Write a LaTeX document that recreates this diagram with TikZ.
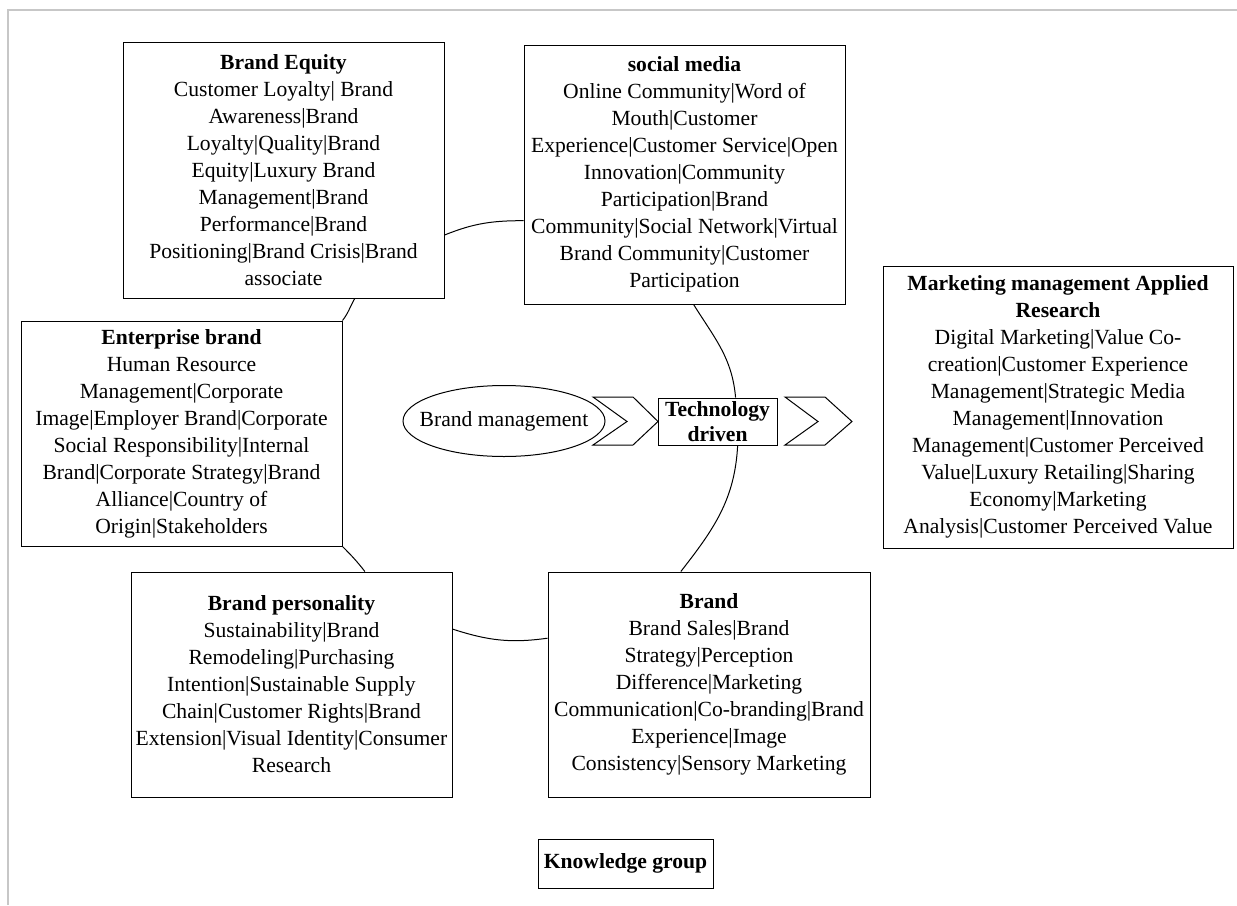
\documentclass[tikz,border=0pt]{standalone}
\usepackage{fontspec}
\setmainfont{Liberation Serif}
\usetikzlibrary{shapes.geometric}

\begin{document}
\begin{tikzpicture}[x=0.5pt,y=-0.5pt,line width=0.5pt,every node/.style={font=\fontsize{10.8}{13.5}\selectfont},kbox/.style={draw,align=center,inner sep=0pt}]
\useasboundingbox (0,0) rectangle (1237,905);
\draw[black!22,line width=1pt] (8,905) -- (8,10) -- (1237,10);
\node[kbox,minimum width=160.5pt,minimum height=128pt] (equity) at (283.5,170) {\textbf{Brand Equity}\\Customer Loyalty| Brand\\Awareness|Brand\\Loyalty|Quality|Brand\\Equity|Luxury Brand\\Management|Brand\\Performance|Brand\\Positioning|Brand Crisis|Brand\\associate};
\node[kbox,minimum width=160.5pt,minimum height=129.5pt] (social) at (684.5,174.5) {\textbf{social media}\\Online Community|Word of\\Mouth|Customer\\Experience|Customer Service|Open\\Innovation|Community\\Participation|Brand\\Community|Social Network|Virtual\\Brand Community|Customer\\Participation};
\node[kbox,minimum width=160.5pt,minimum height=112.5pt] (enterprise) at (181.5,433.5) {\textbf{Enterprise brand}\\Human Resource\\Management|Corporate\\Image|Employer Brand|Corporate\\Social Responsibility|Internal\\Brand|Corporate Strategy|Brand\\Alliance|Country of\\Origin|Stakeholders};
\node[kbox,minimum width=160.5pt,minimum height=112.5pt] (personality) at (291.5,684.5) {\textbf{Brand personality}\\Sustainability|Brand\\Remodeling|Purchasing\\Intention|Sustainable Supply\\Chain|Customer Rights|Brand\\Extension|Visual Identity|Consumer\\Research};
\node[kbox,minimum width=161pt,minimum height=112.5pt] (brand) at (709,684.5) {\textbf{Brand}\\Brand Sales|Brand\\Strategy|Perception\\Difference|Marketing\\Communication|Co-branding|Brand\\Experience|Image\\Consistency|Sensory Marketing};
\node[kbox,minimum width=175pt,minimum height=141pt] (market) at (1058,407) {\textbf{Marketing management Applied}\\\textbf{Research}\\Digital Marketing|Value Co-\\creation|Customer Experience\\Management|Strategic Media\\Management|Innovation\\Management|Customer Perceived\\Value|Luxury Retailing|Sharing\\Economy|Marketing\\Analysis|Customer Perceived Value};
\node[kbox,minimum width=59.5pt,minimum height=23.5pt,font=\fontsize{10.8}{12.5}\selectfont\bfseries] (tech) at (717.5,421.5) {Technology\\driven};
\node (mgmt) at (504,421) {Brand management};
\draw (mgmt.center) ellipse [x radius=50.5pt,y radius=17.75pt];
\node[kbox,minimum width=87.5pt,minimum height=24.5pt,font=\fontsize{10.8}{13.5}\selectfont\bfseries] (know) at (625.5,863.5) {Knowledge group};
\draw (593,397) -- (633,397) -- (658,421.5) -- (633,445) -- (593,445) -- (627,421.5) -- cycle;
\draw (785,397) -- (825,397) -- (852,421.5) -- (825,445) -- (785,445) -- (818,421.5) -- cycle;
\draw (equity.-22) to[out=22,in=180] (social.196.5);
\draw (social.-86.3) to[out=-58,in=95] (tech.53);
\draw (tech.-50) to[out=-93,in=52] (brand.104);
\draw (brand.164) to[out=188,in=-18] (personality.19);
\draw (personality.57.6) to[out=128,in=-45] (enterprise.south east);
\draw (enterprise.north east) to[out=52,in=-120] (equity.-61.5);
\end{tikzpicture}
\end{document}
